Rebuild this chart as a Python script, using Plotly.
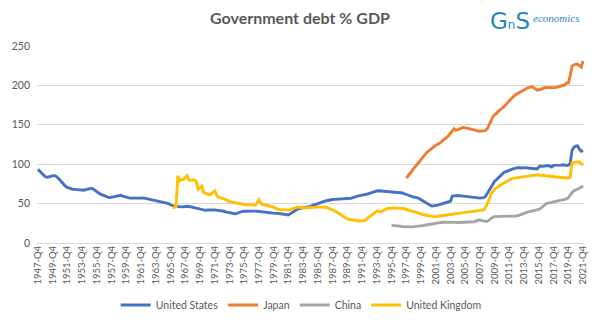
import plotly.graph_objects as go

# ---------------- data ----------------
years = list(range(1947, 2022))
quarters = ["1947-Q4"] + [f"{y}-Q{q}" for y in years[1:] for q in (1, 2, 3, 4)]
tick_labels = [f"{y}-Q4" for y in range(1947, 2022, 2)]

us_values = [
    93.5,
    91, 88.5, 86, 84,
    83.4, 83.5, 84.5, 85.5,
    85.5, 84.5, 82.5, 80,
    77, 74, 72, 70.5,
    69.5, 68.5, 68, 68,
    67.8, 67.3, 66.8, 66.6,
    67, 67.8, 68.3, 68.5,
    69.5, 68.5, 66.5, 65,
    63.5, 62, 60.9, 60,
    59, 58.3, 57.6, 58,
    58.5, 59, 59.5, 60,
    60.5, 59.5, 58.5, 58,
    57.5, 57.2, 57, 56.8,
    56.8, 56.7, 56.9, 57.3,
    57.6, 57, 56.3, 55.8,
    55.2, 54.8, 54.4, 54,
    53.6, 53.2, 52.8, 52.3,
    51.9, 51, 50, 48.5,
    47, 46.6, 46.3, 46,
    46.2, 46, 45.8, 46.3,
    46.6, 46.3, 45.8, 45.2,
    44.5, 43.8, 43.2, 42.6,
    42.2, 41.7, 41.5, 41.8,
    42, 42.2, 42, 41.9,
    41.7, 41.5, 41.2, 40.8,
    40.3, 39.6, 39, 38.5,
    38, 37.5, 37.2, 37.5,
    38.5, 39.5, 40, 40.3,
    40.5, 40.3, 40.5, 40.8,
    40.6, 40.5, 40.3, 40,
    39.5, 39, 38.5, 38.2,
    38, 37.6, 37.4, 37.5,
    37.6, 37.8, 37.4, 37,
    36.8, 36.4, 36, 35.6,
    37, 38.8, 40.5, 42.5,
    43.2, 43.8, 44.2, 44.5,
    44.8, 45.2, 45.7, 46.5,
    47.5, 48.5, 49.5, 50.3,
    51, 51.9, 52.6, 53.3,
    54, 54.6, 55, 55.2,
    55.3, 55.4, 55.5, 55.6,
    55.6, 55.5, 55.6, 55.9,
    56, 56.8, 57.6, 58.5,
    59.3, 60, 60.4, 60.8,
    61, 61.5, 62.2, 63,
    64, 64.8, 65.5, 66,
    66.2, 66, 65.8, 65.6,
    65.5, 65.4, 65.2, 65,
    64.8, 64.5, 64.2, 64,
    64.1, 63.5, 62.5, 61.5,
    60.5, 59.5, 58.7, 58.2,
    58, 57.5, 56.5, 55,
    53.5, 51.5, 50, 48.8,
    47.8, 46.8, 47, 47.5,
    48, 48.6, 49.3, 49.9,
    50.5, 51.3, 52.2, 53,
    59.5, 60, 59.8, 60.3,
    60, 60.2, 59.5, 59.2,
    58.8, 58.5, 58, 57.8,
    57.5, 57.3, 57.2, 57,
    57.2, 57.5, 59, 63,
    67, 72, 75.5, 78.5,
    80.5, 83, 85.4, 87.5,
    89.5, 90.5, 91.5, 93,
    93.5, 94, 94.8, 95.3,
    95.8, 95.2, 95.5, 96,
    95.6, 95.2, 95, 94.5,
    94, 93.5, 94, 96.5,
    97.7, 97.3, 97.8, 98,
    98.3, 97.5, 96.5, 98.5,
    98.5, 98, 98.4, 98.8,
    99.3, 98.5, 98.3, 98.9,
    100.5, 117.5, 121.5, 123,
    123.4, 119, 116.5, 117.3,
]

japan_start = "1997-Q4"
japan_values = [
    82.5,
    85, 88, 91, 94.5,
    97.5, 100.9, 104, 107,
    109.5, 112, 114.5, 116.5,
    118.5, 121, 122.5, 124,
    125, 126.3, 128, 130.5,
    132, 134, 136.5, 139,
    142, 145, 143, 144,
    145, 146.5, 146.7, 146,
    145.5, 145.5, 145, 144.5,
    143.5, 142.5, 142, 141.8,
    142, 142.5, 143, 145,
    150, 156, 160, 163,
    164.3, 167, 169.5, 171,
    173, 176, 178.5, 180.6,
    183, 185.5, 187.6, 189,
    190.5, 192, 192.8, 194.5,
    196, 197, 197.5, 198.2,
    197.5, 195.5, 194, 194.5,
    195.5, 196.5, 197, 197.5,
    197, 197.5, 197, 197,
    197.5, 198, 198.5, 199.5,
    199.8, 200.5, 203, 203,
    212, 224.4, 226, 227,
    226.8, 225, 223.5, 230.9,
]

china_start = "1995-Q4"
china_values = [
    22.4,
    22, 21.8, 21.5, 21.2,
    21.2, 21, 20.7, 20.5,
    20.4, 20.4, 20.5, 20.6,
    20.8, 21, 21.2, 21.5,
    22, 22.5, 23, 23.5,
    23.8, 24.1, 24.5, 25,
    25.4, 25.8, 26.1, 26.3,
    26.4, 26.5, 26.5, 26.5,
    26.4, 26.3, 26.2, 26.1,
    26.1, 26.1, 26.1, 26.1,
    26.1, 26.1, 26.2, 26.5,
    27, 28, 29, 29.4,
    28.5, 27.8, 27.4, 27.4,
    29, 31.5, 33, 33.5,
    33.5, 34, 34.3, 34.2,
    34, 33.8, 33.5, 33.5,
    33.6, 33.8, 34, 34.3,
    35, 36, 37, 38,
    38.8, 39.6, 40, 40.5,
    41, 41.5, 41.7, 42.5,
    44, 46, 48, 49.9,
    50.5, 51, 51.5, 52,
    52.3, 52.7, 53.3, 54,
    54.8, 55.5, 56, 57.5,
    61, 64, 66.2, 67,
    68.3, 69.5, 71, 72.3,
]

uk_start = "1966-Q1"
uk_values = [
    44.5, 45.5, 46, 85.5,
    79, 80.5, 80.5, 83,
    85.4, 80, 79.5, 80,
    80.2, 78, 68.3, 70,
    72.3, 64.1, 63, 62,
    61, 62, 64.5, 66.2,
    61, 58, 57.5, 57,
    56, 55, 53.5, 52.5,
    52, 51.5, 51.1, 50.5,
    50, 49.5, 49, 48.7,
    48.5, 48.5, 48.7, 48.5,
    48, 47.8, 51, 54.8,
    51, 48.7, 48.5, 48,
    47.5, 47, 46.6, 45.5,
    44, 42.9, 42.5, 42.3,
    42, 41.8, 41.7, 41.7,
    42.5, 43.5, 44.5, 45.5,
    45.7, 45.2, 44.8, 44.5,
    44.5, 44.5, 44.7, 45,
    45.2, 45.5, 45.7, 45.5,
    45.5, 45.7, 45.7, 45.3,
    44.8, 44, 43.5, 42.5,
    41, 39.6, 38, 36,
    34.5, 33, 31.5, 30.5,
    29.8, 29.4, 29, 28.5,
    28.2, 28, 28, 28.1,
    28.2, 29.5, 31.5, 33.5,
    34.7, 36.5, 38.5, 40.5,
    40.5, 39.5, 40.5, 42,
    43, 43.8, 44.3, 44.5,
    44.5, 44.5, 44.3, 44,
    44.5, 44, 43.5, 42.5,
    41.5, 40.8, 40.5, 40,
    39, 38, 37, 36.4,
    36, 35.5, 35, 34.5,
    34, 33.5, 33.5, 33.7,
    34, 34.2, 34.3, 34.5,
    34.5, 35, 35.5, 36,
    36.5, 37, 37.3, 37.6,
    38, 38.5, 39, 39.3,
    39.6, 40, 40.3, 40.6,
    40.8, 41, 41.2, 41.5,
    41.7, 42, 45, 49.9,
    55, 62.2, 66, 68.5,
    70.3, 72, 73.5, 74.4,
    76, 77.5, 79, 80.3,
    81.3, 82, 82.5, 83,
    83.5, 84, 84.3, 84.6,
    84.6, 84.8, 85.2, 85.5,
    86, 86.3, 86.7, 86.5,
    86, 85.7, 85.5, 85.2,
    85, 84.8, 84.6, 84.5,
    84, 83.8, 83.5, 83.3,
    83, 82.8, 82.5, 82.5,
    84, 101.8, 102.5, 103,
    103, 103, 101, 98.9,
]

series = [
    ("United States", quarters, us_values, "#4472C4"),
    ("Japan", quarters[quarters.index(japan_start):], japan_values, "#ED7D31"),
    ("China", quarters[quarters.index(china_start):], china_values, "#A5A5A5"),
    ("United Kingdom", quarters[quarters.index(uk_start):], uk_values, "#FFC000"),
]

FONT = "Lato"
GREY = "#595959"

fig = go.Figure()
for name, xs, ys, color in series:
    fig.add_trace(go.Scatter(x=xs, y=ys, name=name, mode="lines",
                             line=dict(color=color, width=2.9)))

fig.update_layout(
    width=600, height=332,
    margin=dict(l=34, r=13, t=46, b=83),
    paper_bgcolor="white", plot_bgcolor="white",
    font=dict(family=FONT, color=GREY),
    title=dict(text="<b>Government debt % GDP</b>", x=0.5, xanchor="center",
               y=1 - 18 / 332, yanchor="middle",
               font=dict(family=FONT, size=16, color=GREY)),
    showlegend=True,
    legend=dict(orientation="h", x=0.483, xanchor="center",
                y=-0.315, yanchor="middle",
                font=dict(family=FONT, size=10.5, color=GREY),
                itemwidth=30, tracegroupgap=0),
)
fig.update_xaxes(type="category", categoryorder="array", categoryarray=quarters,
                 range=[-0.5, len(quarters) - 0.5],
                 tickmode="array", tickvals=tick_labels, ticktext=tick_labels,
                 tickangle=-90, tickfont=dict(family=FONT, size=9.5, color=GREY),
                 showgrid=False, showline=False, ticks="")
fig.update_yaxes(range=[0, 250], dtick=50, showgrid=True, gridcolor="#D9D9D9",
                 gridwidth=1, zeroline=True, zerolinecolor="#D9D9D9", zerolinewidth=1,
                 showline=False, ticks="", ticklabelstandoff=6,
                 tickfont=dict(family=FONT, size=10.5, color=GREY))

# logo
fig.add_annotation(xref="paper", yref="paper", x=(490 - 34) / 553, y=1 + (46 - 20) / 203,
                   xanchor="left", yanchor="middle", showarrow=False,
                   text='<span style="font-size:23px">G</span><span style="font-size:12px">n</span><span style="font-size:23px">S</span>',
                   font=dict(family="DejaVu Sans", color="#2389BD", size=23))
fig.add_annotation(xref="paper", yref="paper", x=(533 - 34) / 553, y=1 + (46 - 17) / 203,
                   xanchor="left", yanchor="middle", showarrow=False,
                   text="<i>economics</i>",
                   font=dict(family="Liberation Serif", color="#2389BD", size=11))

fig.write_html("out.html")
